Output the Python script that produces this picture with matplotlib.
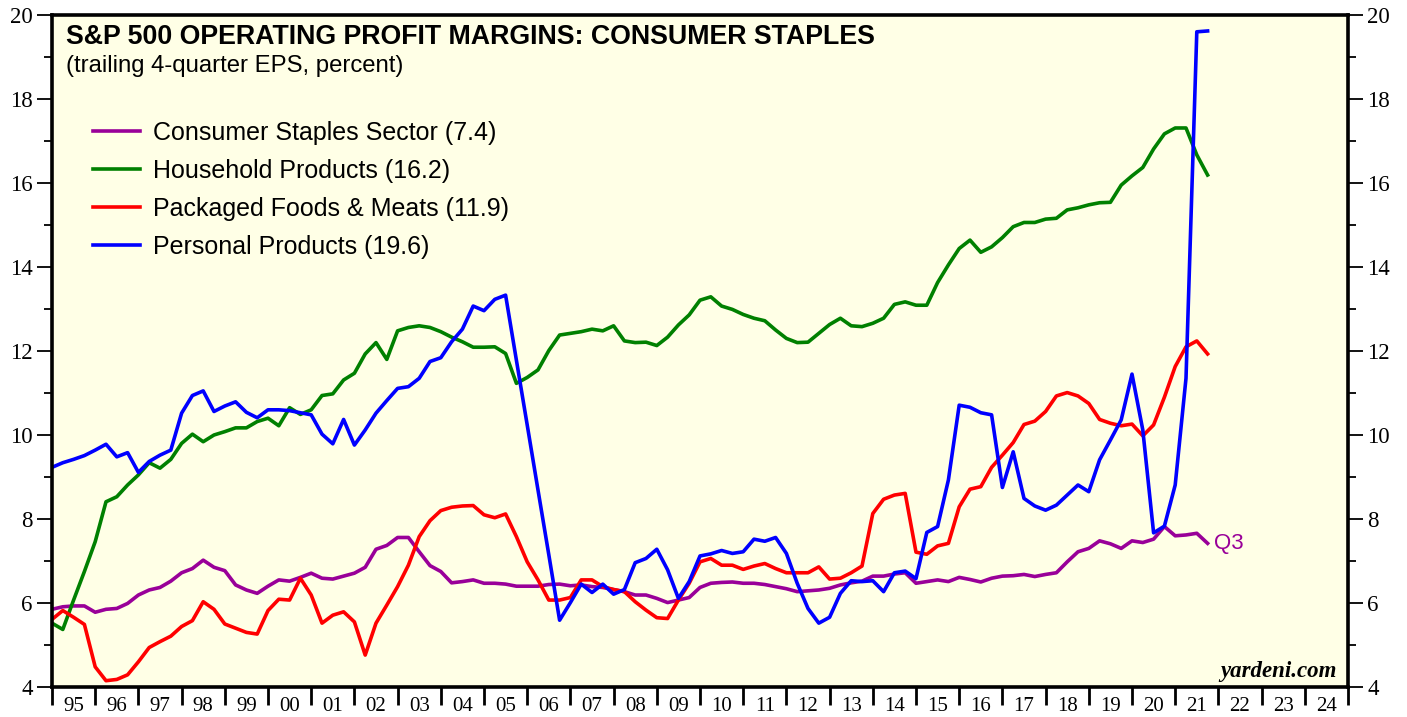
import numpy as np
import matplotlib.pyplot as plt
from matplotlib.ticker import MultipleLocator, FixedLocator, NullFormatter

# quarterly data, 1994Q4 .. 2021Q3 (plotted at quarter end)
start_year = 1995

staples = [5.85, 5.91, 5.93, 5.93, 5.78, 5.85, 5.87, 5.99, 6.19, 6.31, 6.37, 6.52,
           6.72, 6.82, 7.02, 6.85, 6.77, 6.43, 6.31, 6.23, 6.40, 6.55, 6.52, 6.61,
           6.71, 6.59, 6.57, 6.64, 6.71, 6.85, 7.28, 7.37, 7.56, 7.56, 7.22, 6.89,
           6.75, 6.48, 6.51, 6.55, 6.47, 6.47, 6.45, 6.40, 6.40, 6.40, 6.44, 6.45,
           6.41, 6.43, 6.39, 6.37, 6.32, 6.27, 6.19, 6.19, 6.11, 6.01, 6.07, 6.13,
           6.37, 6.47, 6.49, 6.50, 6.47, 6.47, 6.44, 6.39, 6.34, 6.27, 6.29, 6.31,
           6.35, 6.43, 6.48, 6.52, 6.64, 6.64, 6.69, 6.72, 6.47, 6.51, 6.55, 6.51,
           6.61, 6.56, 6.50, 6.59, 6.64, 6.65, 6.68, 6.63, 6.68, 6.72, 6.98, 7.22,
           7.30, 7.48, 7.41, 7.30, 7.48, 7.44, 7.52, 7.82, 7.60, 7.62, 7.66, 7.42]

household = [5.52, 5.37, 6.07, 6.75, 7.46, 8.41, 8.53, 8.81, 9.05, 9.34, 9.21, 9.42,
             9.80, 10.02, 9.84, 10.00, 10.08, 10.17, 10.17, 10.32, 10.40, 10.22, 10.65, 10.49,
             10.60, 10.94, 10.98, 11.31, 11.47, 11.93, 12.20, 11.80, 12.48, 12.56, 12.60, 12.56,
             12.46, 12.33, 12.22, 12.09, 12.09, 12.10, 11.94, 11.23, 11.37, 11.55, 12.01, 12.38,
             12.42, 12.46, 12.52, 12.48, 12.60, 12.24, 12.20, 12.21, 12.13, 12.33, 12.62, 12.86,
             13.21, 13.29, 13.07, 12.99, 12.87, 12.78, 12.72, 12.50, 12.30, 12.20, 12.21, 12.42,
             12.63, 12.78, 12.60, 12.58, 12.66, 12.78, 13.11, 13.17, 13.09, 13.09, 13.63, 14.05,
             14.44, 14.64, 14.35, 14.48, 14.70, 14.96, 15.06, 15.06, 15.14, 15.16, 15.36, 15.41,
             15.48, 15.53, 15.54, 15.95, 16.17, 16.37, 16.81, 17.17, 17.31, 17.31, 16.67, 16.19]

foods = [5.61, 5.82, 5.66, 5.49, 4.48, 4.15, 4.18, 4.29, 4.60, 4.94, 5.08, 5.21,
         5.44, 5.58, 6.03, 5.85, 5.50, 5.40, 5.30, 5.26, 5.82, 6.09, 6.07, 6.59,
         6.19, 5.52, 5.71, 5.79, 5.55, 4.76, 5.52, 5.95, 6.39, 6.90, 7.58, 7.96,
         8.20, 8.28, 8.31, 8.32, 8.10, 8.03, 8.12, 7.58, 6.98, 6.55, 6.07, 6.07,
         6.13, 6.55, 6.55, 6.39, 6.32, 6.27, 6.03, 5.83, 5.65, 5.63, 6.07, 6.47,
         6.98, 7.06, 6.90, 6.90, 6.80, 6.88, 6.94, 6.82, 6.72, 6.72, 6.72, 6.86,
         6.57, 6.59, 6.72, 6.88, 8.13, 8.47, 8.57, 8.61, 7.21, 7.16, 7.36, 7.42,
         8.29, 8.71, 8.77, 9.23, 9.52, 9.82, 10.25, 10.33, 10.56, 10.93, 11.01, 10.93,
         10.75, 10.37, 10.28, 10.22, 10.26, 9.98, 10.24, 10.90, 11.63, 12.10, 12.24, 11.93]

personal = [9.23, 9.34, 9.42, 9.51, 9.64, 9.78, 9.48, 9.58, 9.11, 9.37, 9.52, 9.64,
            10.52, 10.94, 11.05, 10.56, 10.69, 10.79, 10.54, 10.41, 10.60, 10.60, 10.58, 10.53,
            10.48, 10.02, 9.79, 10.37, 9.76, 10.12, 10.52, 10.82, 11.11, 11.15, 11.35, 11.75,
            11.84, 12.22, 12.52, 13.07, 12.96, 13.23, 13.33, 11.78, 10.24, 8.69, 7.15, 5.59,
            6.01, 6.45, 6.25, 6.45, 6.21, 6.32, 6.96, 7.06, 7.28, 6.79, 6.11, 6.51,
            7.12, 7.17, 7.25, 7.18, 7.22, 7.52, 7.47, 7.56, 7.18, 6.47, 5.87, 5.52,
            5.66, 6.23, 6.53, 6.51, 6.53, 6.27, 6.72, 6.76, 6.58, 7.68, 7.82, 8.93,
            10.71, 10.66, 10.53, 10.48, 8.75, 9.60, 8.49, 8.31, 8.21, 8.33, 8.57, 8.81,
            8.65, 9.41, 9.88, 10.36, 11.45, 10.12, 7.67, 7.83, 8.81, 11.35, 19.60, 19.62]

labels = ['Consumer Staples Sector (7.4)', 'Household Products (16.2)',
          'Packaged Foods & Meats (11.9)', 'Personal Products (19.6)']
colors = ['#990099', '#008000', '#ff0000', '#0000ff']
year_labels = ['95', '96', '97', '98', '99', '00', '01', '02', '03', '04',
               '05', '06', '07', '08', '09', '10', '11', '12', '13', '14',
               '15', '16', '17', '18', '19', '20', '21', '22', '23', '24']

x = start_year + np.arange(len(staples)) / 4.0

plt.rcParams['font.family'] = 'Liberation Sans'

fig = plt.figure(figsize=(14.07, 7.17), dpi=100)
ax = fig.add_axes([52/1407, 30/717, 1296/1407, 672/717])
ax.set_facecolor('#ffffe6')

for series, c, lab in zip([staples, household, foods, personal], colors, labels):
    ax.plot(x, series, color=c, lw=2.6, label=lab)

ax.set_xlim(1995, 2025)
ax.set_ylim(4, 20)

# years: ticks at boundaries, labels in the middle
ax.xaxis.set_major_locator(FixedLocator(np.arange(1995, 2026)))
ax.xaxis.set_major_formatter(NullFormatter())
ax.xaxis.set_minor_locator(FixedLocator(np.arange(1995, 2025) + 0.5))
ax.set_xticklabels(year_labels, minor=True)
ax.tick_params(axis='x', which='major', direction='out', length=13, width=2)
ax.tick_params(axis='x', which='minor', length=0, pad=7, labelsize=15)
for t in ax.xaxis.get_minorticklabels():
    t.set_fontfamily('Liberation Serif')

ax.yaxis.set_major_locator(MultipleLocator(2))
ax.yaxis.set_minor_locator(MultipleLocator(1))
ax.tick_params(axis='y', which='major', direction='out', length=11, width=1.3, pad=3,
               left=True, right=True, labelleft=True, labelright=True, labelsize=16.5)
ax.tick_params(axis='y', which='minor', direction='out', length=5.5, width=1.3,
               left=True, right=True)
for t in ax.yaxis.get_majorticklabels():
    t.set_fontfamily('Liberation Serif')

for s in ax.spines.values():
    s.set_linewidth(2.6)

ax.text(0.0108, 0.957, 'S&P 500 OPERATING PROFIT MARGINS: CONSUMER STAPLES',
        transform=ax.transAxes, fontsize=19.3, fontweight='bold', va='baseline')
ax.text(0.0108, 0.915, '(trailing 4-quarter EPS, percent)',
        transform=ax.transAxes, fontsize=17.2, va='baseline')

leg = ax.legend(loc='upper left', bbox_to_anchor=(0.0316, 0.842), frameon=False,
                borderpad=0, borderaxespad=0, fontsize=18, handlelength=1.9,
                handletextpad=0.52, labelspacing=0.56)

ax.text(x[-1] + 0.15, staples[-1], 'Q3', color=colors[0], fontsize=16, va='center')
ax.text(0.9915, 0.015, 'yardeni.com', transform=ax.transAxes, ha='right', va='baseline',
        fontsize=16.5, fontweight='bold', fontstyle='italic', fontfamily='Liberation Serif')

fig.savefig('out.png', dpi=100)
